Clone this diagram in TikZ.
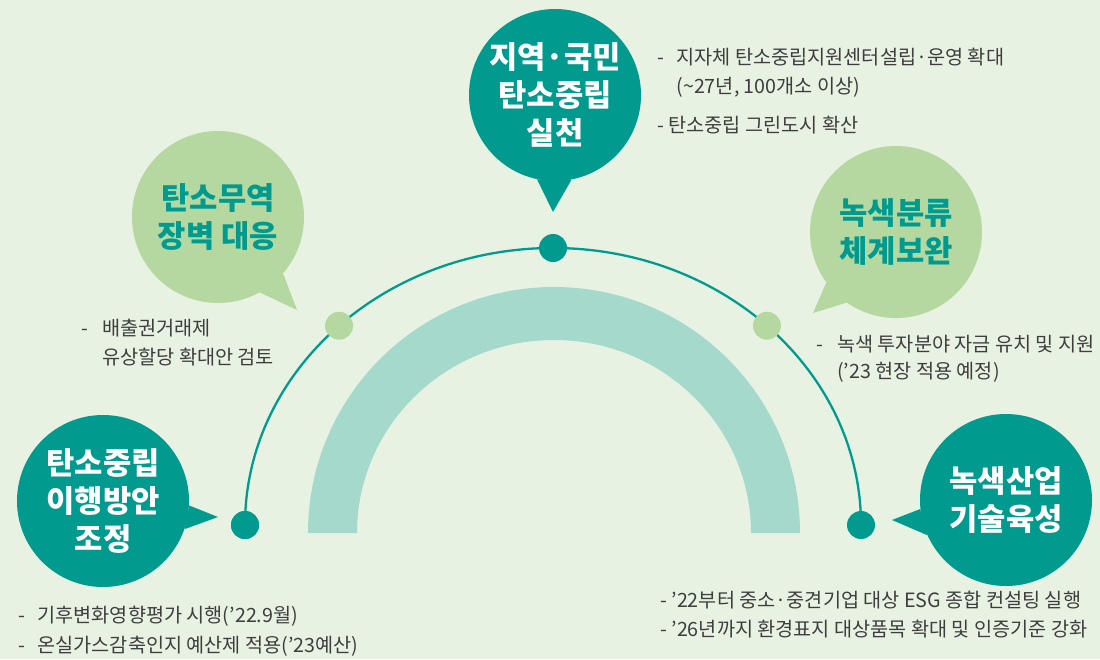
\documentclass[tikz,border=0pt]{standalone}
\usepackage{fontspec}
\newfontfamily\kr{Noto Sans CJK KR}
\usepackage{xcolor}
\definecolor{deepteal}{RGB}{0,154,142}
\definecolor{leaf}{RGB}{181,216,160}
\definecolor{band}{RGB}{164,217,203}
\definecolor{paper}{RGB}{232,242,226}
\definecolor{ink}{RGB}{62,62,62}
\newcommand\bulgap{-\hspace{7pt}}

\tikzset{
  bubble/.style={circle, minimum size=34.4mm, inner sep=0pt, align=center,
    font=\kr\bfseries\fontsize{17.5}{21.5}\selectfont},
  darkbubble/.style={bubble, fill=deepteal, text=white},
  lightbubble/.style={bubble, fill=leaf, text=deepteal},
  hub/.style={circle, minimum size=5.6mm, inner sep=0pt},
  note/.style={anchor=base west, inner sep=0pt, text=ink,
    font=\kr\fontsize{11.2}{17}\selectfont},
}

\begin{document}
\begin{tikzpicture}[x=0.2mm, y=0.2mm]
% canvas
\fill[paper] (0,0) rectangle (1100,-659);
\useasboundingbox (0,0) rectangle (1100,-659);

% rainbow band
\fill[band] (308,-533) arc[start angle=180, end angle=0, x radius=246, y radius=246]
  -- (751,-533) arc[start angle=0, end angle=180, x radius=197, y radius=193] -- cycle;

% arc with its dots
\coordinate (mid) at (553,-525);
\node[hub, fill=deepteal] (dotL) at (245,-525) {};
\draw[deepteal, line width=1.3pt] (dotL.center) arc[start angle=180, end angle=0, x radius=308, y radius=277];
\node[hub, fill=deepteal] (dotL) at (245,-525) {};
\node[hub, fill=leaf] (dotUL) at ([shift={(134:308 and 277)}]mid) {};
\node[hub, fill=deepteal] (dotT) at ([shift={(90:308 and 277)}]mid) {};
\node[hub, fill=leaf] (dotUR) at ([shift={(46:308 and 277)}]mid) {};
\node[hub, fill=deepteal] (dotR) at ([shift={(0:308 and 277)}]mid) {};

% bubbles
\node[darkbubble] (nation) at (555,-95) {지역·국민\\탄소중립\\실천};
\fill[deepteal] (nation.258) -- (553,-212) -- (nation.281) -- cycle;

\node[lightbubble] (trade) at (218,-217) {탄소무역\\장벽 대응};
\fill[leaf] (trade.-41) -- (297,-310) -- (trade.-61) -- cycle;

\node[lightbubble] (taxo) at (896,-232) {녹색분류\\체계보완};
\fill[leaf] (taxo.216) -- (813,-313) -- (taxo.235) -- cycle;

\node[darkbubble] (plan) at (103,-501) {탄소중립\\이행방안\\조정};
\fill[deepteal] (plan.-3) -- (218,-517) -- (plan.-19) -- cycle;

\node[darkbubble] (industry) at (1006,-500) {녹색산업\\기술육성};
\fill[deepteal] (industry.186) -- (892,-520) -- (industry.204) -- cycle;

% notes
\node[note] (nationA) at (657,-64) {\begin{tabular}[t]{@{}l@{\hspace{7pt}}l@{}}-&지자체 탄소중립지원센터설립·운영 확대\\&(\textasciitilde 27년, 100개소 이상)\end{tabular}};
\node[note] (nationB) at (657,-132) {- 탄소중립 그린도시 확산};

\node[note] (tradeA) at (81,-335) {\begin{tabular}[t]{@{}l@{\hspace{8pt}}l@{}}-&배출권거래제\\&유상할당 확대안 검토\end{tabular}};

\node[note, font=\kr\fontsize{11.2}{15.5}\selectfont] (taxoA) at (816,-351) {\begin{tabular}[t]{@{}l@{\hspace{8pt}}l@{}}-&녹색 투자분야 자금 유치 및 지원\\&(’23 현장 적용 예정)\end{tabular}};

\node[note] (planA) at (18,-622) {\bulgap 기후변화영향평가 시행(’22.9월)};
\node[note] (planB) at (18,-652) {\bulgap 온실가스감축인지 예산제 적용(’23예산)};

\node[note] (industryA) at (660,-607) {- ’22부터 중소·중견기업 대상 ESG 종합 컨설팅 실행};
\node[note] (industryB) at (660,-636) {- ’26년까지 환경표지 대상품목 확대 및 인증기준 강화};

\end{tikzpicture}
\end{document}
